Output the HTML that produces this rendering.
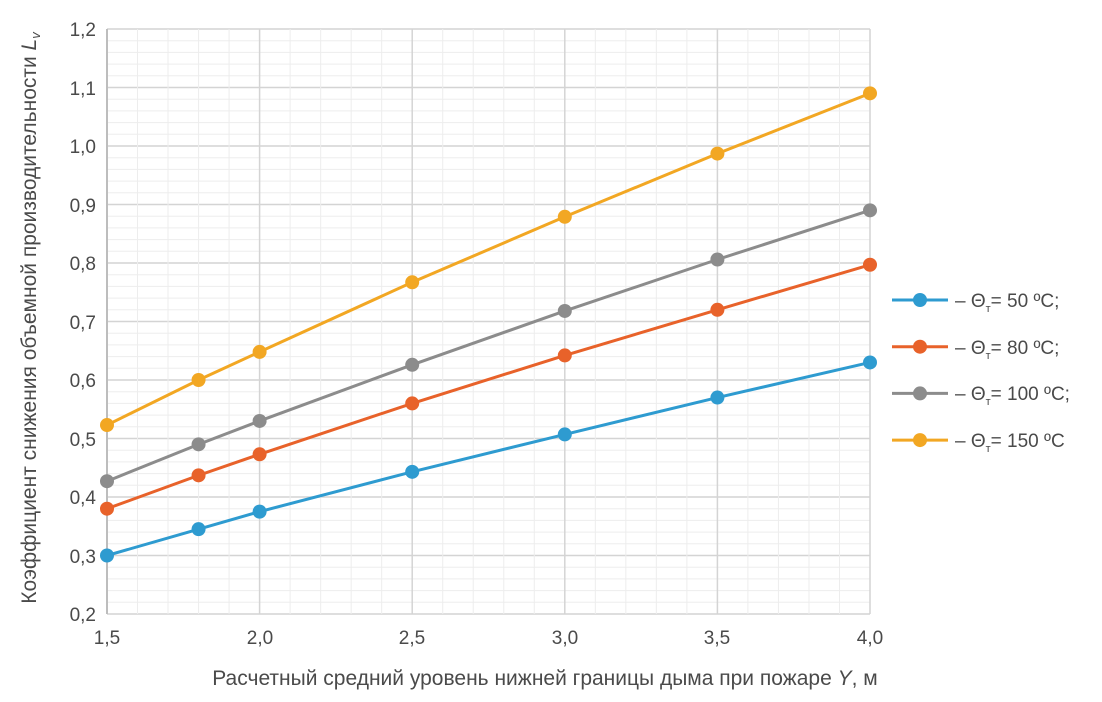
<!DOCTYPE html>
<html><head><meta charset="utf-8"><style>
body{margin:0;background:#fff;}
svg{display:block;font-family:"Liberation Sans",sans-serif;}
</style></head><body>
<svg id="s" width="1102" height="702" viewBox="0 0 1102 702" xmlns="http://www.w3.org/2000/svg">
<g id="grid"></g>
<g font-size="19" fill="#4a4a4a" text-anchor="end">
<text x="96" y="36">1,2</text><text x="96" y="95">1,1</text><text x="96" y="153">1,0</text>
<text x="96" y="212">0,9</text><text x="96" y="270">0,8</text><text x="96" y="329">0,7</text>
<text x="96" y="387">0,6</text><text x="96" y="446">0,5</text><text x="96" y="504">0,4</text>
<text x="96" y="563">0,3</text><text x="96" y="621">0,2</text>
</g>
<g font-size="19" fill="#4a4a4a" text-anchor="middle">
<text x="107" y="644">1,5</text><text x="260" y="644">2,0</text><text x="412" y="644">2,5</text>
<text x="565" y="644">3,0</text><text x="717" y="644">3,5</text><text x="870" y="644">4,0</text>
</g>
<text x="545" y="685" font-size="21" fill="#4a4a4a" text-anchor="middle">Расчетный средний уровень нижней границы дыма при пожаре <tspan font-style="italic">Y</tspan>, м</text>
<text transform="translate(36,318) rotate(-90)" font-size="21" fill="#4a4a4a" text-anchor="middle">Коэффициент снижения объемной производительности <tspan font-style="italic">L</tspan><tspan font-style="italic" font-size="13" dy="4">v</tspan></text>
<g id="series"></g>
<g font-size="19" fill="#4a4a4a">
<text x="955" y="307">– Θ<tspan font-size="11" dy="5">т</tspan><tspan dy="-5">= 50 ºC;</tspan></text>
<text x="955" y="354">– Θ<tspan font-size="11" dy="5">т</tspan><tspan dy="-5">= 80 ºC;</tspan></text>
<text x="955" y="400">– Θ<tspan font-size="11" dy="5">т</tspan><tspan dy="-5">= 100 ºC;</tspan></text>
<text x="955" y="447">– Θ<tspan font-size="11" dy="5">т</tspan><tspan dy="-5">= 150 ºC</tspan></text>
</g>
</svg>
<script>
var NS="http://www.w3.org/2000/svg";
function el(p,t,a){var e=document.createElementNS(NS,t);for(var k in a)e.setAttribute(k,a[k]);p.appendChild(e);return e;}
var g=document.getElementById('grid');
var X=function(x){return 107+(x-1.5)*305.2;}, Y=function(v){return 731-585*v;};
for(var i=0;i<=50;i++){var v=0.2+i*0.02;var maj=i%5==0;
 el(g,'line',{x1:107,x2:870,y1:Y(v),y2:Y(v),stroke:maj?'#d4d4d4':'#ededed','stroke-width':maj?1.5:1});}
for(var i=0;i<=25;i++){var x=1.5+i*0.1;var maj=i%5==0;
 el(g,'line',{x1:X(x),x2:X(x),y1:Y(1.2),y2:Y(0.2),stroke:maj?'#d4d4d4':'#ededed','stroke-width':maj?1.5:1});}
el(g,'line',{x1:107,x2:107,y1:Y(1.2),y2:Y(0.2),stroke:'#bdbdbd','stroke-width':2});
var xs=[1.5,1.8,2.0,2.5,3.0,3.5,4.0];
var data=[['#2e9bd0',[.30,.345,.375,.443,.507,.57,.63]],['#e8622a',[.38,.437,.473,.56,.642,.72,.797]],
['#8c8c8c',[.427,.49,.53,.626,.718,.806,.89]],['#f2a723',[.523,.60,.648,.767,.879,.987,1.09]]];
var s=document.getElementById('series');
data.forEach(function(d,j){var pts=xs.map(function(x,i){return X(x)+','+Y(d[1][i]);}).join(' ');
 el(s,'polyline',{points:pts,fill:'none',stroke:d[0],'stroke-width':3});
 xs.forEach(function(x,i){el(s,'circle',{cx:X(x),cy:Y(d[1][i]),r:7,fill:d[0]});});
 var ly=300+j*46.7;
 el(s,'line',{x1:892,x2:948,y1:ly,y2:ly,stroke:d[0],'stroke-width':3});
 el(s,'circle',{cx:920,cy:ly,r:7,fill:d[0]});});
</script>
</body></html>
